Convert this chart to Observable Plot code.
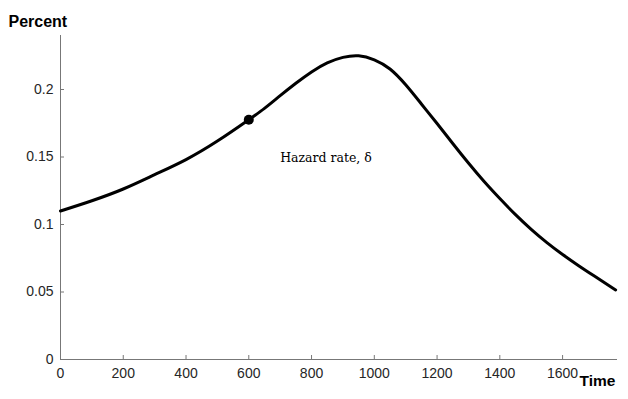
<!DOCTYPE html>
<html><head><meta charset="utf-8">
<script src="https://cdn.jsdelivr.net/npm/d3@7"></script>
<script src="https://cdn.jsdelivr.net/npm/@observablehq/plot@0.6"></script>
<style>body{margin:0;background:#fff}</style>
</head><body><div id="chart"></div>
<script>
const time = [0, 100, 200, 300, 400, 500, 600, 650, 700, 750, 800, 850, 900, 950, 1000, 1050, 1100, 1150, 1200, 1250, 1300, 1350, 1400, 1450, 1500, 1550, 1600, 1650, 1700, 1769];
const hazard = [0.1100, 0.1176, 0.1263, 0.1369, 0.1481, 0.1618, 0.1776, 0.1860, 0.1954, 0.2046, 0.2130, 0.2197, 0.2238, 0.2250, 0.2220, 0.2152, 0.2035, 0.1893, 0.1748, 0.1600, 0.1455, 0.1318, 0.1192, 0.1073, 0.0964, 0.0866, 0.0778, 0.0697, 0.0620, 0.0515];
const markedTime = [600];
const markedHazard = [0.1776];
const xTicks = [0, 200, 400, 600, 800, 1000, 1200, 1400, 1600];
const yTicks = [0, 0.05, 0.1, 0.15, 0.2];
const annotation = ["Hazard rate, δ"];
const yTitle = ["Percent"];
const xTitle = ["Time"];

const curve = time.map((t, i) => ({t, h: hazard[i]}));
const marked = markedTime.map((t, i) => ({t, h: markedHazard[i]}));

const W = 628, H = 399, ML = 60, MR = 11, MT = 35, MB = 40, TICK = 4;

const chart = Plot.plot({
  width: W,
  height: H,
  marginLeft: ML,
  marginRight: MR,
  marginTop: MT,
  marginBottom: MB,
  style: {fontFamily: "'Liberation Sans', Arial, sans-serif", fontSize: "14px", color: "#262626", background: "#fff"},
  x: {domain: [0, 1775]},
  y: {domain: [0, 0.24]},
  marks: [
    // inward tick marks
    Plot.tickX(xTicks.filter(d => d > 0), {x: d => d, stroke: "#777", insetTop: H - MT - MB - TICK}),
    Plot.tickY(yTicks.filter(d => d > 0), {y: d => d, stroke: "#777", insetRight: W - ML - MR - TICK}),
    // tick labels
    Plot.axisX({ticks: xTicks, tickFormat: d => String(d), tickSize: 0, tickPadding: 9, label: null, fontSize: 14}),
    Plot.axisY({ticks: yTicks, tickFormat: d => String(d), tickSize: 0, tickPadding: 7, label: null, fontSize: 14}),
    Plot.ruleX([0], {stroke: "#777"}),
    Plot.ruleY([0], {stroke: "#777"}),
    Plot.line(curve, {x: "t", y: "h", stroke: "#000", strokeWidth: 3, curve: "natural"}),
    Plot.dot(marked, {x: "t", y: "h", r: 5, fill: "#000", stroke: "none"}),
    Plot.text(annotation, {x: 700, y: 0.1495, text: d => d, textAnchor: "start", lineAnchor: "middle", fontFamily: "'DejaVu Serif', 'Liberation Serif', serif", fontSize: 12.5, fill: "#000"}),
    Plot.text(yTitle, {frameAnchor: "top-left", text: d => d, textAnchor: "start", lineAnchor: "middle", dx: -52, dy: -14, fontWeight: "bold", fontSize: 16, fill: "#000"}),
    Plot.text(xTitle, {frameAnchor: "bottom-right", text: d => d, textAnchor: "start", lineAnchor: "middle", dx: -38, dy: 22, fontWeight: "bold", fontSize: 15.5, fill: "#000"})
  ]
});
document.getElementById("chart").appendChild(chart);
</script>
</body></html>
